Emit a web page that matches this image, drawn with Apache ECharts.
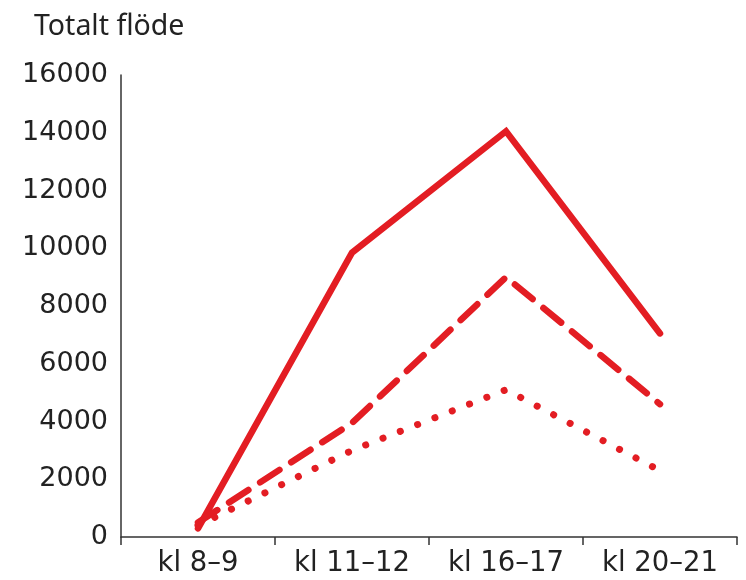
<!DOCTYPE html>
<html>
<head>
<meta charset="utf-8">
<script src="https://cdn.jsdelivr.net/npm/echarts@6/dist/echarts.min.js"></script>
<style>html,body{margin:0;padding:0;background:#fff;}#c{width:746px;height:580px;}</style>
</head>
<body>
<div id="c"></div>
<script>
const categories = ['kl 8–9', 'kl 11–12', 'kl 16–17', 'kl 20–21'];
const solidValues = [300, 9850, 14050, 7050];
const dashedValues = [500, 3950, 9000, 4600];
const dottedValues = [400, 3000, 5100, 2300];
const yTicks = { min: 0, max: 16000, interval: 2000 };
const titleText = 'Totalt flöde';

const red = '#e31d23';
const chart = echarts.init(document.getElementById('c'));
chart.setOption({
  animation: false,
  backgroundColor: '#fff',
  title: {
    text: titleText, left: 29, top: 7,
    textStyle: { fontFamily: 'Noto Sans', fontSize: 28.5, fontWeight: 'normal', color: '#222' }
  },
  grid: { left: 121, right: 9, top: 75, bottom: 43 },
  xAxis: {
    type: 'category', data: categories, boundaryGap: true,
    axisLine: { show: true, lineStyle: { color: '#333', width: 1.5 } },
    axisTick: { show: true, length: 8, interval: 0, lineStyle: { color: '#333', width: 1.5 } },
    axisLabel: { fontFamily: 'DejaVu Sans', fontSize: 27.5, color: '#222', margin: 13, interval: 0 },
    splitLine: { show: false }
  },
  yAxis: {
    type: 'value', min: yTicks.min, max: yTicks.max, interval: yTicks.interval,
    axisLine: { show: true, lineStyle: { color: '#333', width: 1.5 } },
    axisTick: { show: false },
    axisLabel: { fontFamily: 'DejaVu Sans', fontSize: 27, color: '#222', margin: 13,
      formatter: function (v) { return String(v); } },
    splitLine: { show: false }
  },
  series: [
    { type: 'line', data: solidValues, symbol: 'none',
      lineStyle: { color: red, width: 6.5, cap: 'round', join: 'miter' } },
    { type: 'line', data: dashedValues, symbol: 'none',
      lineStyle: { color: red, width: 6.5, type: [23, 14], cap: 'round' } },
    { type: 'line', data: dottedValues, symbol: 'none',
      lineStyle: { color: red, width: 7, type: [0.1, 18.5], cap: 'round' } }
  ]
});
</script>
</body>
</html>
